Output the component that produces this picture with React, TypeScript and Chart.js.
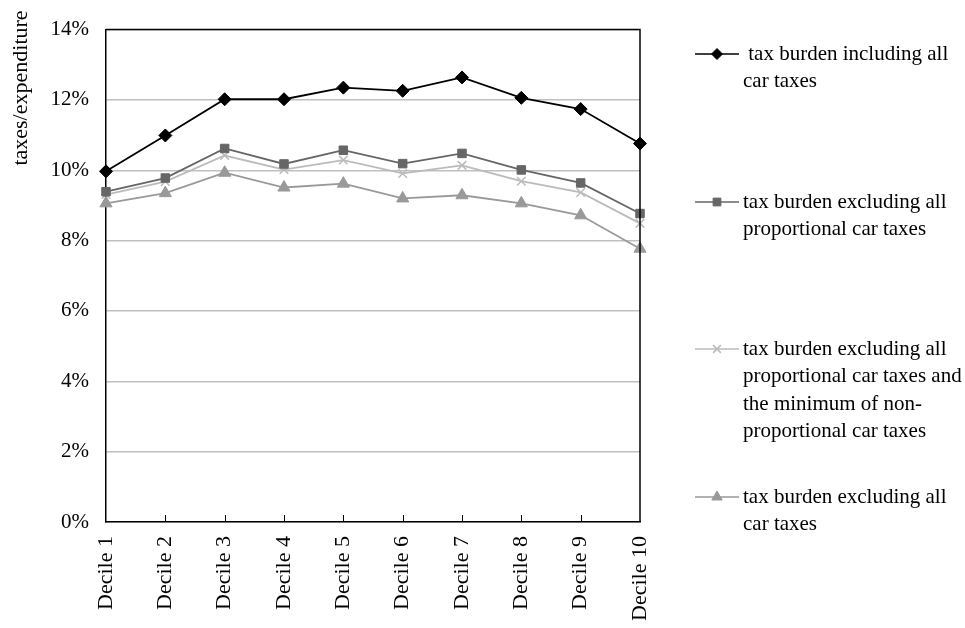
import React, { useEffect, useRef } from "react";
import { Chart, registerables } from "chart.js";
import { drawPoint } from "chart.js/helpers";

Chart.register(...registerables);

const categories = ["Decile 1", "Decile 2", "Decile 3", "Decile 4", "Decile 5", "Decile 6", "Decile 7", "Decile 8", "Decile 9", "Decile 10"];

const inclAll = [9.97, 10.99, 12.02, 12.02, 12.35, 12.26, 12.64, 12.06, 11.74, 10.76];
const exclProp = [9.39, 9.78, 10.62, 10.18, 10.57, 10.19, 10.48, 10.01, 9.64, 8.77];
const exclPropMin = [9.31, 9.68, 10.42, 10.02, 10.29, 9.91, 10.14, 9.69, 9.37, 8.49];
const exclAll = [9.06, 9.35, 9.93, 9.51, 9.62, 9.2, 9.29, 9.06, 8.72, 7.77];

const legendLabels = [
  [" tax burden including all", "car taxes"],
  ["tax burden excluding all", "proportional car taxes"],
  ["tax burden excluding all", "proportional car taxes and", "the minimum of non-", "proportional car taxes"],
  ["tax burden excluding all", "car taxes"],
];

const yTicks = [0, 2, 4, 6, 8, 10, 12, 14];
const yTitle = "taxes/expenditure";

const FONT = '"Liberation Serif", "Times New Roman", serif';

const legendY = [54, 202, 349, 497];

const customPlugin = {
  id: "custom",
  afterDraw(chart: any) {
    const ctx = chart.ctx;
    const { left, right, top, bottom } = chart.chartArea;
    ctx.save();
    // box
    ctx.strokeStyle = "#000";
    ctx.lineWidth = 1.5;
    ctx.beginPath();
    ctx.moveTo(left, top);
    ctx.lineTo(right, top);
    ctx.lineTo(right, bottom);
    ctx.stroke();
    // inward x ticks
    const xs = chart.scales.x;
    ctx.lineWidth = 1;
    for (let i = 1; i < categories.length - 1; i++) {
      const px = Math.round(xs.getPixelForTick(i)) + 0.5;
      ctx.beginPath();
      ctx.moveTo(px, bottom);
      ctx.lineTo(px, bottom - 7);
      ctx.stroke();
    }
    // y title
    ctx.fillStyle = "#000";
    ctx.font = `22px ${FONT}`;
    ctx.translate(21, 88);
    ctx.rotate(-Math.PI / 2);
    ctx.textAlign = "center";
    ctx.textBaseline = "middle";
    ctx.fillText(yTitle, 0, 0);
    ctx.restore();

    // legend
    chart.data.datasets.forEach((ds: any, i: number) => {
      const y = legendY[i];
      ctx.save();
      ctx.strokeStyle = ds.borderColor;
      ctx.fillStyle = ds.borderColor;
      ctx.lineWidth = 1.5;
      ctx.beginPath();
      ctx.moveTo(695, y);
      ctx.lineTo(739, y);
      ctx.stroke();
      ctx.strokeStyle = ds.borderColor;
      ctx.fillStyle = ds.borderColor;
      ctx.lineWidth = ds.pointStyle === "crossRot" ? 1.5 : 1;
      drawPoint(ctx, {
        pointStyle: ds.pointStyle,
        radius: ds.pointStyle === "triangle" ? 6 : 5.5,
        rotation: 0,
        borderWidth: ds.pointStyle === "crossRot" ? 1.5 : 1,
      } as any, 717, y);
      ctx.restore();
      ctx.save();
      ctx.fillStyle = "#000";
      ctx.font = `21px ${FONT}`;
      ctx.textAlign = "left";
      ctx.textBaseline = "middle";
      legendLabels[i].forEach((line, j) => {
        ctx.fillText(line, 743, y + j * 27.5);
      });
      ctx.restore();
    });
  },
};

export default function App() {
  const ref = useRef<HTMLCanvasElement | null>(null);
  useEffect(() => {
    if (!ref.current) return;
    const mk = (label: string, data: number[], color: string, style: string, r: number) => ({
      label,
      data,
      borderColor: color,
      backgroundColor: color,
      pointBackgroundColor: color,
      pointBorderColor: color,
      borderWidth: 1.8,
      pointStyle: style,
      pointRadius: r,
      pointHoverRadius: r,
      pointBorderWidth: style === "crossRot" ? 1.5 : 1,
      tension: 0,
      clip: false as any,
    });
    const chart = new Chart(ref.current, {
      type: "line",
      data: {
        labels: categories,
        datasets: [
          mk(legendLabels[0].join(" "), inclAll, "#000000", "rectRot", 6.5),
          mk(legendLabels[1].join(" "), exclProp, "#666666", "rect", 6),
          mk(legendLabels[2].join(" "), exclPropMin, "#bbbbbb", "crossRot", 6),
          mk(legendLabels[3].join(" "), exclAll, "#999999", "triangle", 7),
        ],
      },
      plugins: [customPlugin],
      options: {
        responsive: false,
        animation: false,
        layout: { padding: { top: 19, right: 325, left: 0, bottom: 0 } },
        plugins: { legend: { display: false }, tooltip: { enabled: false } },
        scales: {
          x: {
            offset: false,
            grid: { display: false, drawTicks: false },
            border: { display: true, color: "#000", width: 1.5 },
            ticks: {
              color: "#000",
              font: { family: FONT, size: 22 },
              minRotation: 90,
              maxRotation: 90,
              padding: 14,
              autoSkip: false,
            },
            afterFit: (s: any) => {
              s.height = 106;
            },
          },
          y: {
            min: 0,
            max: 14,
            afterBuildTicks: (s: any) => {
              s.ticks = yTicks.map((v) => ({ value: v }));
            },
            grid: { color: "#c0c0c0", lineWidth: 1.5, drawTicks: false },
            border: { display: true, color: "#000", width: 1.5 },
            ticks: {
              color: "#000",
              font: { family: FONT, size: 21 },
              padding: 17,
              callback: (v: any) => `${v}%`,
            },
            afterFit: (s: any) => {
              s.width = 106;
            },
          },
        },
      },
    });
    return () => chart.destroy();
  }, []);
  return (
    <div style={{ position: "absolute", left: 0, top: 0, width: 965, height: 628, background: "#fff" }}>
      <canvas ref={ref} width={965} height={628} style={{ display: "block" }} />
    </div>
  );
}
